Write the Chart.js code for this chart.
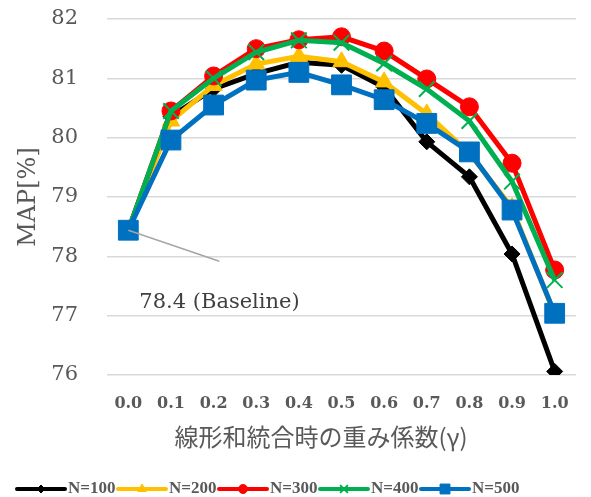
<!DOCTYPE html>
<html><head><meta charset="utf-8">
<script src="https://cdn.jsdelivr.net/npm/chart.js@4.4.0/dist/chart.umd.min.js"></script>
<style>html,body{margin:0;padding:0;background:#fff;} canvas{display:block;}</style>
</head><body>
<canvas id="c" width="591" height="497"></canvas>
<script>
const gammas = ['0.0','0.1','0.2','0.3','0.4','0.5','0.6','0.7','0.8','0.9','1.0'];
const seriesNames = ['N=100','N=200','N=300','N=400','N=500'];
const n100 = [78.44, 80.36, 80.82, 81.08, 81.27, 81.22, 80.85, 79.93, 79.34, 78.04, 76.06];
const n200 = [78.44, 80.28, 80.88, 81.24, 81.37, 81.28, 80.94, 80.40, 79.74, 78.82, 77.02];
const n300 = [78.44, 80.45, 81.04, 81.50, 81.65, 81.70, 81.46, 80.99, 80.52, 79.57, 77.77];
const n400 = [78.44, 80.45, 81.00, 81.44, 81.64, 81.60, 81.25, 80.82, 80.28, 79.26, 77.60];
const n500 = [78.44, 79.96, 80.55, 80.97, 81.10, 80.89, 80.64, 80.24, 79.76, 78.78, 77.04];
const yTicks = [76, 77, 78, 79, 80, 81, 82];
const baselineLabel = '78.4 (Baseline)';
const xTitle = '線形和統合時の重み係数(γ)';
const yTitle = 'MAP[%]';

const styles = [
  {color:'#000000', point:'rectRot', r:8, bw:1},
  {color:'#FFC000', point:'triangle', r:10, bw:1},
  {color:'#FF0000', point:'circle', r:9, bw:1},
  {color:'#00B050', point:'crossRot', r:11, bw:2},
  {color:'#0070C0', point:'rect', r:14, bw:1}
];
const values = [n100, n200, n300, n400, n500];

const datasets = values.map((v, i) => ({
  label: seriesNames[i],
  data: v,
  borderColor: styles[i].color,
  backgroundColor: styles[i].color,
  pointBackgroundColor: styles[i].color,
  pointBorderColor: styles[i].color,
  borderWidth: 5,
  pointStyle: styles[i].point,
  pointRadius: styles[i].r,
  pointBorderWidth: styles[i].bw,
  tension: 0,
  order: 5 - i
}));

const extras = {
  id: 'extras',
  afterDatasetsDraw(chart) {
    const ctx = chart.ctx;
    const xs = chart.scales.x, ys = chart.scales.y;
    const ca = chart.chartArea;
    ctx.save();
    const px = xs.getPixelForValue(0), py = ys.getPixelForValue(n100[0]);
    ctx.strokeStyle = '#A6A6A6';
    ctx.lineWidth = 1.5;
    ctx.beginPath();
    ctx.moveTo(px, py);
    ctx.lineTo(px + 91, py + 31);
    ctx.stroke();
    ctx.fillStyle = '#404040';
    ctx.font = '21px "DejaVu Serif"';
    ctx.textAlign = 'left';
    ctx.textBaseline = 'middle';
    ctx.fillText(baselineLabel, px + 11, py + 72);
    ctx.fillStyle = '#595959';
    ctx.font = '24px "DejaVu Serif"';
    ctx.textAlign = 'center';
    ctx.translate(29, (ca.top + ca.bottom) / 2);
    ctx.rotate(-Math.PI / 2);
    ctx.fillText(yTitle, 0, 0);
    ctx.setTransform(1, 0, 0, 1, 0, 0);
    ctx.font = '24px "Noto Sans CJK JP"';
    ctx.fillText(xTitle, 321, 437);
    const ly = 489;
    chart.data.datasets.forEach((ds, i) => {
      const x0 = 17 + i * 101;
      ctx.strokeStyle = ds.borderColor;
      ctx.lineWidth = 4;
      ctx.lineCap = 'round';
      ctx.beginPath();
      ctx.moveTo(x0, ly);
      ctx.lineTo(x0 + 48, ly);
      ctx.stroke();
      ctx.lineCap = 'butt';
      ctx.fillStyle = ds.pointBackgroundColor;
      ctx.strokeStyle = ds.pointBorderColor;
      ctx.lineWidth = ds.pointBorderWidth;
      Chart.helpers.drawPoint(ctx, {pointStyle: ds.pointStyle, rotation: 0, borderWidth: ds.pointBorderWidth, radius: ds.pointRadius * 0.5}, x0 + 24, ly);
      ctx.fillStyle = '#595959';
      ctx.font = 'bold 17px "Liberation Serif"';
      ctx.textAlign = 'left';
      ctx.textBaseline = 'middle';
      ctx.fillText(ds.label, x0 + 51, ly);
    });
    ctx.restore();
  }
};

new Chart(document.getElementById('c'), {
  type: 'line',
  data: { labels: gammas, datasets },
  options: {
    responsive: false,
    animation: false,
    devicePixelRatio: 1,
    layout: { padding: { left: 0, right: 8, top: 0, bottom: 0 } },
    plugins: { legend: { display: false }, tooltip: { enabled: false } },
    scales: {
      x: {
        type: 'category',
        offset: true,
        grid: { display: false, drawTicks: false },
        border: { display: false },
        ticks: { font: { family: 'DejaVu Serif', size: 16, weight: 'bold' }, color: '#595959', padding: 19, maxRotation: 0, autoSkip: false },
        beforeFit(s) { s._calculatePadding = function () { this.paddingLeft = 0; this.paddingRight = 0; }; },
        afterFit(s) { s.height = 122; s.paddingLeft = 0; s.paddingRight = 0; }
      },
      y: {
        min: 76, max: 82,
        afterBuildTicks(s) { s.ticks = yTicks.map(v => ({ value: v })); },
        ticks: { font: { family: 'DejaVu Serif', size: 21 }, color: '#595959', padding: 29 },
        grid: { color: '#D9D9D9', lineWidth: 1.5, drawTicks: false },
        border: { display: false },
        afterFit(s) { s.width = 107; s.paddingTop = 19; s.paddingBottom = 0; }
      }
    }
  },
  plugins: [extras]
});
</script></body></html>
